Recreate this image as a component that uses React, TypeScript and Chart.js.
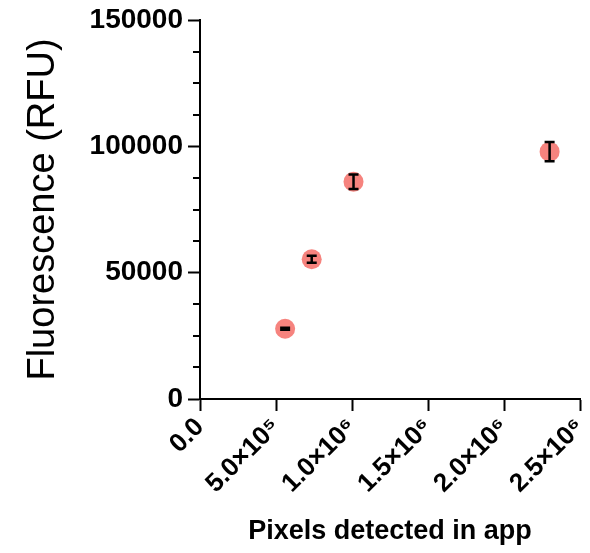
import React, { useEffect, useRef } from "react";
import { Chart, registerables } from "chart.js";

Chart.register(...registerables);

const xValues = [560000, 735000, 1010000, 2300000];
const yValues = [27800, 55300, 86000, 97900];
const yErrors = [350, 1400, 2900, 3850];
const xTickLabels = ["0.0", "5.0×10⁵", "1.0×10⁶", "1.5×10⁶", "2.0×10⁶", "2.5×10⁶"];
const yTickValues = [0, 50000, 100000, 150000];
const yMinorStep = 12500;

const FONT = "'Liberation Sans', Arial, Helvetica, sans-serif";

const errorBarPlugin = {
  id: "errorBars",
  afterDatasetsDraw(chart: any) {
    const ctx = chart.ctx;
    const xs = chart.scales.x;
    const ys = chart.scales.y;
    ctx.save();
    ctx.strokeStyle = "#000";
    ctx.lineWidth = 2.5;
    for (let i = 0; i < xValues.length; i++) {
      const px = xs.getPixelForValue(xValues[i]);
      const top = ys.getPixelForValue(yValues[i] + yErrors[i]);
      const bot = ys.getPixelForValue(yValues[i] - yErrors[i]);
      ctx.beginPath();
      ctx.moveTo(px, top);
      ctx.lineTo(px, bot);
      ctx.moveTo(px - 5, top);
      ctx.lineTo(px + 5, top);
      ctx.moveTo(px - 5, bot);
      ctx.lineTo(px + 5, bot);
      ctx.stroke();
    }
    ctx.restore();
  },
};

const minorTickPlugin = {
  id: "minorTicks",
  afterDraw(chart: any) {
    const ctx = chart.ctx;
    const ys = chart.scales.y;
    const left = chart.chartArea.left;
    ctx.save();
    ctx.strokeStyle = "#000";
    ctx.lineWidth = 2;
    for (let v = 0; v <= ys.max; v += yMinorStep) {
      if (v % 50000 === 0) continue;
      const py = Math.round(ys.getPixelForValue(v));
      ctx.beginPath();
      ctx.moveTo(left - 7, py);
      ctx.lineTo(left, py);
      ctx.stroke();
    }
    ctx.restore();
  },
};

export default function App() {
  const ref = useRef<HTMLCanvasElement | null>(null);
  useEffect(() => {
    if (!ref.current) return;
    const chart = new Chart(ref.current, {
      type: "scatter",
      data: {
        datasets: [
          {
            data: xValues.map((x, i) => ({ x, y: yValues[i] })),
            backgroundColor: "#F6837E",
            borderWidth: 0,
            pointRadius: 10,
            pointHoverRadius: 10,
          },
        ],
      },
      options: {
        responsive: false,
        animation: false,
        devicePixelRatio: 1,
        layout: { padding: { top: 20, right: 8, left: 0, bottom: 0 } },
        plugins: { legend: { display: false }, tooltip: { enabled: false } },
        scales: {
          x: {
            type: "linear",
            min: 0,
            max: 2500000,
            afterFit: (s: any) => {
              s.height = 154;
              s.paddingRight = 0;
              s.paddingLeft = 0;
            },
            afterBuildTicks: (s: any) => {
              s.ticks = xTickLabels.map((_, i) => ({ value: i * 500000 }));
            },
            ticks: {
              minRotation: 45,
              maxRotation: 45,
              padding: 1,
              color: "#000",
              font: { family: FONT, size: 26, weight: "bold" },
              callback: (_v: any, i: number) => xTickLabels[i],
            },
            grid: {
              display: true,
              drawOnChartArea: false,
              drawTicks: true,
              tickLength: 12,
              tickColor: "#000",
              tickWidth: 2,
            },
            border: { display: true, color: "#000", width: 2 },
            title: {
              display: true,
              text: "Pixels detected in app",
              color: "#000",
              font: { family: FONT, size: 27, weight: "bold" },
              padding: { top: 0, bottom: 5 },
            },
          },
          y: {
            type: "linear",
            min: 0,
            max: 150000,
            afterFit: (s: any) => {
              s.width = 200;
              s.paddingTop = 0;
              s.paddingBottom = 0;
            },
            afterBuildTicks: (s: any) => {
              s.ticks = yTickValues.map((v) => ({ value: v }));
            },
            ticks: {
              padding: 5,
              color: "#000",
              font: { family: FONT, size: 28, weight: "bold" },
              callback: (v: any) => String(v),
            },
            grid: {
              display: true,
              drawOnChartArea: false,
              drawTicks: true,
              tickLength: 12,
              tickColor: "#000",
              tickWidth: 2,
            },
            border: { display: true, color: "#000", width: 2 },
            title: {
              display: true,
              text: "Fluorescence (RFU)",
              color: "#000",
              font: { family: FONT, size: 38, weight: "normal" },
              padding: { top: 21, bottom: 0 },
            },
          },
        },
      },
      plugins: [errorBarPlugin, minorTickPlugin],
    } as any);
    return () => chart.destroy();
  }, []);
  return (
    <div style={{ position: "absolute", left: 0, top: 0, width: 590, height: 553, background: "#fff" }}>
      <canvas ref={ref} width={590} height={553} />
    </div>
  );
}
